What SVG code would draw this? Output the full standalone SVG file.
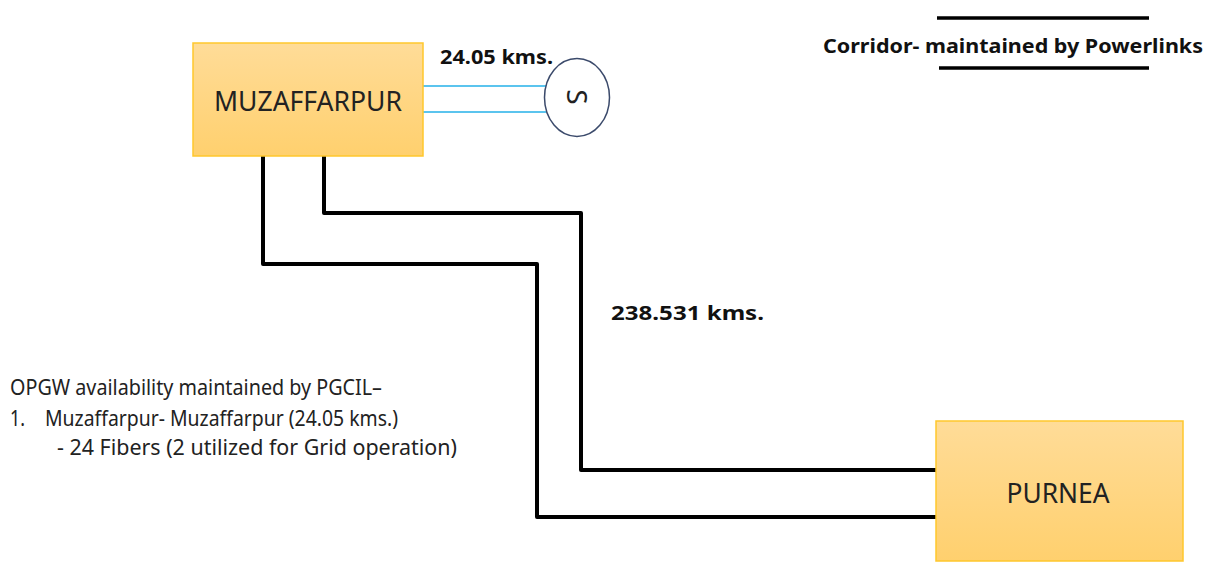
<svg xmlns="http://www.w3.org/2000/svg" width="1213" height="563" viewBox="0 0 1213 563">
<defs>
<linearGradient id="g" x1="0" y1="0" x2="0" y2="1">
<stop offset="0" stop-color="#FFDC98"/>
<stop offset="1" stop-color="#FFD06E"/>
</linearGradient>
</defs>
<style>
.box{fill:url(#g);stroke:#FFC72C;stroke-width:1.5}
.lbl{font-family:"Noto Sans","Open Sans",sans-serif;font-size:28px;fill:#222}
.b{font-family:"Noto Sans","Open Sans",sans-serif;font-weight:bold;font-size:20px;fill:#111}
.t{font-family:"Noto Sans","Open Sans",sans-serif;font-size:22px;fill:#222}
.blk{fill:none;stroke:#000;stroke-width:4;stroke-linejoin:round}
.blu{fill:none;stroke:#5BC4EE;stroke-width:1.8}
</style>
<rect width="1213" height="563" fill="#fff"/>
<g id="connectors">
<polyline class="blk" points="263,156 263,264 537,264 537,517 936,517"/>
<polyline class="blk" points="324,156 324,213 581,213 581,470 936,470"/>
<line class="blu" x1="423" y1="86" x2="546" y2="86"/>
<line class="blu" x1="423" y1="112" x2="546" y2="112"/>
</g>
<g id="muzaffarpur">
<rect class="box" x="193" y="43" width="230" height="113"/>
<text class="lbl" x="308" y="111" text-anchor="middle" textLength="188" lengthAdjust="spacingAndGlyphs">MUZAFFARPUR</text>
</g>
<g id="purnea">
<rect class="box" x="936" y="421" width="247" height="140"/>
<text class="lbl" x="1058" y="503" text-anchor="middle" textLength="103" lengthAdjust="spacingAndGlyphs">PURNEA</text>
</g>
<g id="s-node">
<ellipse cx="577" cy="97.5" rx="32.5" ry="39" fill="#fff" stroke="#3B4A6B" stroke-width="1.5"/>
<text class="lbl" x="0" y="9.5" font-size="27" text-anchor="middle" transform="translate(576,97) rotate(90)">S</text>
</g>
<g id="legend">
<line x1="937" y1="18" x2="1149" y2="18" stroke="#000" stroke-width="3.5"/>
<line x1="939" y1="68" x2="1149" y2="68" stroke="#000" stroke-width="3.5"/>
<text class="b" x="823" y="53" textLength="380" lengthAdjust="spacingAndGlyphs">Corridor- maintained by Powerlinks</text>
</g>
<g id="labels">
<text class="b" x="440" y="64" textLength="113" lengthAdjust="spacingAndGlyphs">24.05 kms.</text>
<text class="b" x="611" y="320" textLength="153" lengthAdjust="spacingAndGlyphs">238.531 kms.</text>
<text class="t" x="10" y="395" textLength="372" lengthAdjust="spacingAndGlyphs">OPGW availability maintained by PGCIL–</text>
<text class="t" x="10" y="426" textLength="15" lengthAdjust="spacingAndGlyphs">1.</text>
<text class="t" x="45" y="426" textLength="353" lengthAdjust="spacingAndGlyphs">Muzaffarpur- Muzaffarpur (24.05 kms.)</text>
<text class="t" x="57" y="455" textLength="400" lengthAdjust="spacingAndGlyphs">- 24 Fibers (2 utilized for Grid operation)</text>
</g>
</svg>
